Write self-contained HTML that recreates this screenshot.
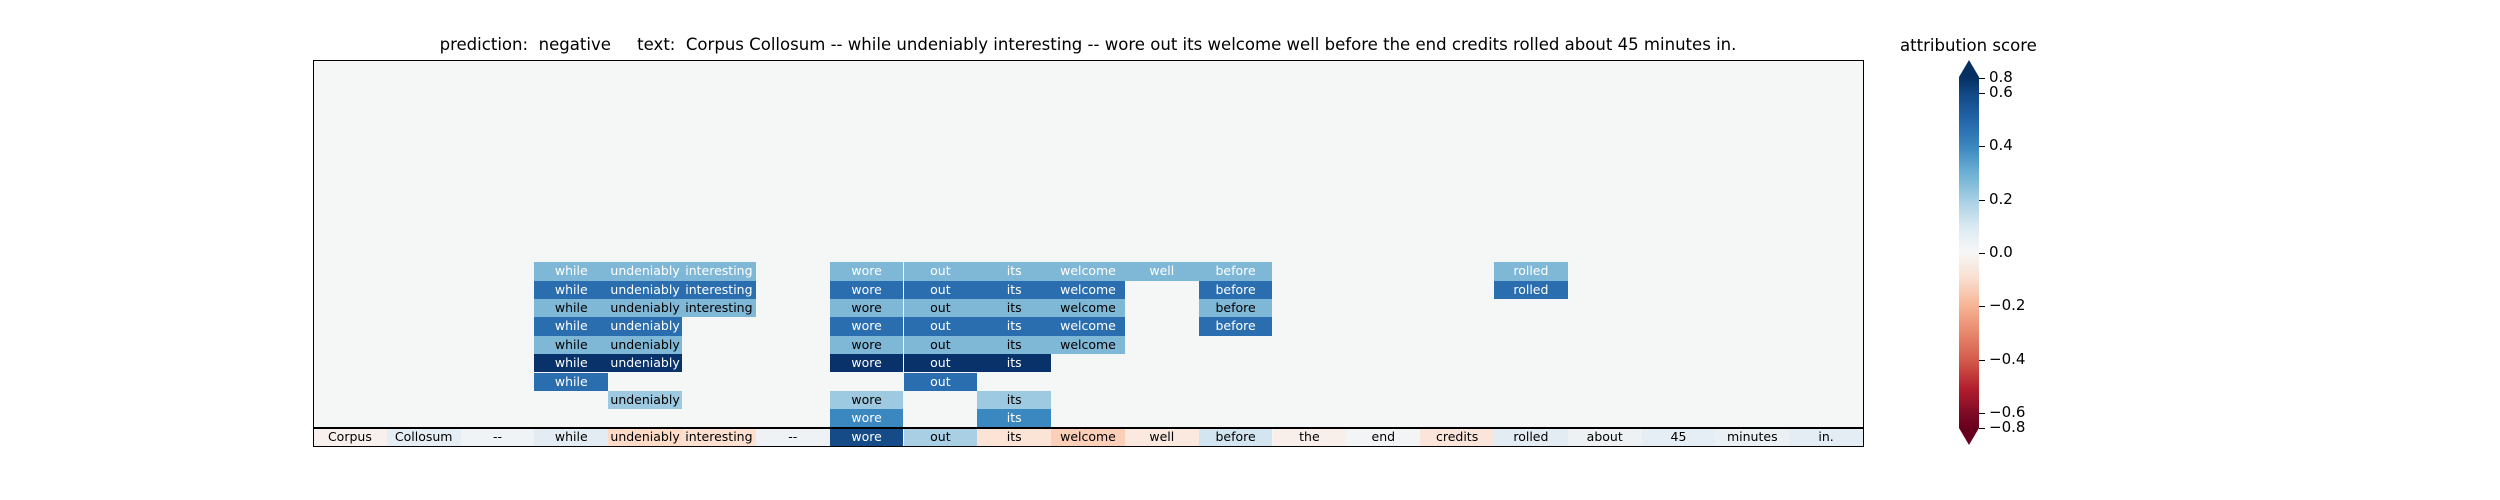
<!DOCTYPE html>
<html><head><meta charset="utf-8"><style>
body{margin:0;width:2500px;height:500px;background:#fff;position:relative;overflow:hidden;font-family:"DejaVu Sans","Liberation Sans",sans-serif;}
.t{position:absolute;white-space:pre;color:#000}
.c{position:absolute;width:73.81px;height:18.4px;font-size:12.5px;line-height:18px;text-align:center;white-space:nowrap;overflow:visible}
.L{background:#7fb7d7}.M{background:#2a6eaf}.D{background:#09326a}.P{background:#9dcae1}.Q{background:#3b87c0}
.w{color:#fff}.k{color:#000}
.r11{top:262.2px}.r12{top:280.6px}.r13{top:298.9px}.r14{top:317.3px}.r15{top:335.7px}.r16{top:354.1px}.r17{top:372.5px}.r18{top:390.8px}.r19{top:409.2px}.r20{top:427.6px}
.c0{left:313px}.c1{left:386.8px}.c2{left:460.6px}.c3{left:534.4px}.c4{left:608.2px}.c5{left:682px}.c6{left:755.9px}.c7{left:829.7px}.c8{left:903.5px}.c9{left:977.3px}.c10{left:1051.1px}.c11{left:1124.9px}.c12{left:1198.7px}.c13{left:1272.5px}.c14{left:1346.4px}.c15{left:1420.2px}.c16{left:1494px}.c17{left:1567.8px}.c18{left:1641.6px}.c19{left:1715.4px}.c20{left:1789.2px}
.tk{position:absolute;left:1979px;width:6px;height:1.2px;background:#000}
.tl{position:absolute;left:1989px;font-size:15px;line-height:15px;color:#000;white-space:pre}
</style></head><body>
<div class="t" style="left:313px;width:1550px;top:35px;font-size:16.55px;text-align:center">prediction:  negative     text:  Corpus Collosum -- while undeniably interesting -- wore out its welcome well before the end credits rolled about 45 minutes in.</div>
<div style="position:absolute;left:313px;top:60px;width:1550px;height:386px;background:#f5f6f6"></div>

<!-- row 11 -->
<div class="c L w r11 c3">while</div><div class="c L w r11 c4">undeniably</div><div class="c L w r11 c5">interesting</div><div class="c L w r11 c7">wore</div><div class="c L w r11 c8">out</div><div class="c L w r11 c9">its</div><div class="c L w r11 c10">welcome</div><div class="c L w r11 c11">well</div><div class="c L w r11 c12">before</div><div class="c L w r11 c16">rolled</div>
<!-- row 12 -->
<div class="c M w r12 c3">while</div><div class="c M w r12 c4">undeniably</div><div class="c M w r12 c5">interesting</div><div class="c M w r12 c7">wore</div><div class="c M w r12 c8">out</div><div class="c M w r12 c9">its</div><div class="c M w r12 c10">welcome</div><div class="c M w r12 c12">before</div><div class="c M w r12 c16">rolled</div>
<!-- row 13 -->
<div class="c L k r13 c3">while</div><div class="c L k r13 c4">undeniably</div><div class="c L k r13 c5">interesting</div><div class="c L k r13 c7">wore</div><div class="c L k r13 c8">out</div><div class="c L k r13 c9">its</div><div class="c L k r13 c10">welcome</div><div class="c L k r13 c12">before</div>
<!-- row 14 -->
<div class="c M w r14 c3">while</div><div class="c M w r14 c4">undeniably</div><div class="c M w r14 c7">wore</div><div class="c M w r14 c8">out</div><div class="c M w r14 c9">its</div><div class="c M w r14 c10">welcome</div><div class="c M w r14 c12">before</div>
<!-- row 15 -->
<div class="c L k r15 c3">while</div><div class="c L k r15 c4">undeniably</div><div class="c L k r15 c7">wore</div><div class="c L k r15 c8">out</div><div class="c L k r15 c9">its</div><div class="c L k r15 c10">welcome</div>
<!-- row 16 -->
<div class="c D w r16 c3">while</div><div class="c D w r16 c4">undeniably</div><div class="c D w r16 c7">wore</div><div class="c D w r16 c8">out</div><div class="c D w r16 c9">its</div>
<!-- row 17 -->
<div class="c M w r17 c3">while</div><div class="c M w r17 c8">out</div>
<!-- row 18 -->
<div class="c P k r18 c4">undeniably</div><div class="c P k r18 c7">wore</div><div class="c P k r18 c9">its</div>
<!-- row 19 -->
<div class="c Q w r19 c7">wore</div><div class="c Q w r19 c9">its</div>
<!-- token row -->
<div class="c k r20 c0" style="background:#f8f0ec">Corpus</div>
<div class="c k r20 c1" style="background:#e6eef5">Collosum</div>
<div class="c k r20 c2" style="background:#f0f3f6">--</div>
<div class="c k r20 c3" style="background:#e3ebf3">while</div>
<div class="c k r20 c4" style="background:#fddbc7">undeniably</div>
<div class="c k r20 c5" style="background:#fde0d0">interesting</div>
<div class="c k r20 c6" style="background:#eef2f5">--</div>
<div class="c w r20 c7" style="background:#154b87">wore</div>
<div class="c k r20 c8" style="background:#a8cfe4">out</div>
<div class="c k r20 c9" style="background:#fbe3d6">its</div>
<div class="c k r20 c10" style="background:#fcd0b8">welcome</div>
<div class="c k r20 c11" style="background:#fbe8df">well</div>
<div class="c k r20 c12" style="background:#d2e5f1">before</div>
<div class="c k r20 c13" style="background:#f8eeea">the</div>
<div class="c k r20 c14" style="background:#f2f4f5">end</div>
<div class="c k r20 c15" style="background:#fbe5da">credits</div>
<div class="c k r20 c16" style="background:#e4ecf3">rolled</div>
<div class="c k r20 c17" style="background:#eef1f4">about</div>
<div class="c k r20 c18" style="background:#e6eef5">45</div>
<div class="c k r20 c19" style="background:#eaf0f4">minutes</div>
<div class="c k r20 c20" style="background:#e4ecf4">in.</div>

<div style="position:absolute;left:313px;top:426.6px;width:1550px;height:2px;background:#000"></div>
<div style="position:absolute;left:312.5px;top:59.5px;width:1549px;height:385px;border:1.3px solid #000"></div>

<!-- colorbar -->
<div class="t" style="left:1900px;top:36px;font-size:16.55px">attribution score</div>
<svg style="position:absolute;left:0;top:0" width="2500" height="500">
<defs><linearGradient id="g" x1="0" y1="0" x2="0" y2="1">
<stop offset="0" stop-color="#053061"/><stop offset="0.046" stop-color="#124784"/>
<stop offset="0.12" stop-color="#2264a8"/><stop offset="0.197" stop-color="#3a87bf"/>
<stop offset="0.27" stop-color="#6aaed3"/><stop offset="0.35" stop-color="#a6cfe4"/>
<stop offset="0.43" stop-color="#dceaf2"/><stop offset="0.5" stop-color="#f7f7f7"/>
<stop offset="0.57" stop-color="#f9e0d2"/><stop offset="0.65" stop-color="#f7b597"/>
<stop offset="0.73" stop-color="#e7876b"/><stop offset="0.81" stop-color="#d2594a"/>
<stop offset="0.89" stop-color="#b11c2c"/><stop offset="0.96" stop-color="#7d0a26"/>
<stop offset="1" stop-color="#67001f"/></linearGradient></defs>
<rect x="1959" y="77" width="20" height="351" fill="url(#g)"/>
<polygon points="1959,77 1969,60 1979,77" fill="#053061"/>
<polygon points="1959,428 1969,445 1979,428" fill="#67001f"/>
</svg>
<div class="tk" style="top:77.5px"></div><div class="tl" style="top:70px">0.8</div>
<div class="tk" style="top:92.5px"></div><div class="tl" style="top:85px">0.6</div>
<div class="tk" style="top:145.5px"></div><div class="tl" style="top:138px">0.4</div>
<div class="tk" style="top:199.5px"></div><div class="tl" style="top:192px">0.2</div>
<div class="tk" style="top:252.5px"></div><div class="tl" style="top:245px">0.0</div>
<div class="tk" style="top:305.5px"></div><div class="tl" style="top:298px">−0.2</div>
<div class="tk" style="top:359.5px"></div><div class="tl" style="top:352px">−0.4</div>
<div class="tk" style="top:412.5px"></div><div class="tl" style="top:405px">−0.6</div>
<div class="tk" style="top:427.5px"></div><div class="tl" style="top:420px">−0.8</div>
</body></html>
